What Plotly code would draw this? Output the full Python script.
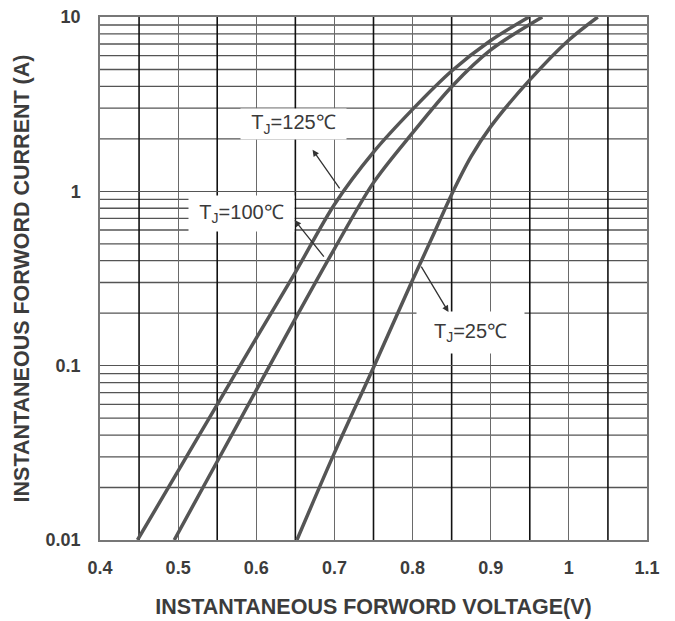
import math
import plotly.graph_objects as go

# ---- data ----
v_125 = [0.448, 0.5, 0.55, 0.6, 0.65, 0.7, 0.75, 0.8, 0.85, 0.9, 0.949]
i_125 = [0.01, 0.0249, 0.0598, 0.144, 0.343, 0.841, 1.679, 2.951, 4.898, 7.33, 10]

v_100 = [0.495, 0.55, 0.6, 0.65, 0.7, 0.75, 0.8, 0.85, 0.9, 0.966]
i_100 = [0.01, 0.0282, 0.0724, 0.186, 0.468, 1.122, 2.163, 3.981, 6.471, 10]

v_25 = [0.652, 0.7, 0.75, 0.8, 0.825, 0.85, 0.875, 0.9, 0.95, 1.0, 1.037]
i_25 = [0.01, 0.0316, 0.0977, 0.31, 0.543, 0.96, 1.585, 2.35, 4.355, 7.38, 10]

x_ticks = [0.4, 0.5, 0.6, 0.7, 0.8, 0.9, 1.0, 1.1]
x_tick_text = ["0.4", "0.5", "0.6", "0.7", "0.8", "0.9", "1", "1.1"]
x_minor = [0.45, 0.55, 0.65, 0.75, 0.85, 0.95, 1.05]
y_decades = [0.01, 0.1, 1, 10]
y_decade_text = ["0.01", "0.1", "1", "10"]

labels = ["T<sub>J</sub>=125℃", "T<sub>J</sub>=100℃", "T<sub>J</sub>=25℃"]
label_pos = [(0.648, 2.43), (0.581, 0.746), (0.874, 0.155)]
label_size = [(103, 28), (103, 33), (105, 39)]
arrow_tip = [(0.672, 1.73), (0.649, 0.684), (0.846, 0.203)]
arrow_tail = [(0.708, 1.02), (0.688, 0.414), (0.810, 0.377)]

# y minor gridlines at 2..9 x decade
y_minor = []
for d in y_decades[:-1]:
    for k in range(2, 10):
        y_minor.append(d * k)

curve_color = "#555555"
fig = go.Figure()
for vs, cs in [(v_125, i_125), (v_100, i_100), (v_25, i_25)]:
    fig.add_trace(go.Scatter(x=vs, y=cs, mode="lines",
                             line=dict(color=curve_color, width=3.5, shape="spline", smoothing=0.9),
                             showlegend=False, hoverinfo="skip"))

shapes = []
for yv in y_minor:
    shapes.append(dict(type="line", xref="x domain", yref="y", x0=0, x1=1,
                       y0=yv, y1=yv, layer="below",
                       line=dict(color="#555555", width=1.3)))
for xv in x_minor:
    shapes.append(dict(type="line", xref="x", yref="y domain", x0=xv, x1=xv, y0=0, y1=1,
                       layer="below", line=dict(color="#111111", width=1.6)))

anns = []
for txt, (lx, ly), (w, h) in zip(labels, label_pos, label_size):
    anns.append(dict(x=lx, y=math.log10(ly), xref="x", yref="y", text=txt, showarrow=False,
                     bgcolor="white", width=w, height=h,
                     font=dict(family="Liberation Sans, Arial, sans-serif", size=20, color="#3a3a3a")))
for (tx, ty), (ax, ay) in zip(arrow_tip, arrow_tail):
    anns.append(dict(x=tx, y=math.log10(ty), xref="x", yref="y", ax=ax, ay=math.log10(ay),
                     axref="x", ayref="y", text="", showarrow=True, arrowhead=2, arrowsize=1,
                     arrowwidth=1.3, arrowcolor="#333333"))

tick_font = dict(family="Liberation Sans, Arial, sans-serif", size=18, color="#3c3c3c", weight="bold")
title_font = dict(family="Liberation Sans, Arial, sans-serif", size=21.5, color="#3c3c3c", weight="bold")

# the page body adds an 8px offset, so the figure is 8px smaller than the window
fig.update_layout(
    width=667, height=613,
    margin=dict(l=92, r=28, t=9, b=81, autoexpand=False),
    paper_bgcolor="white", plot_bgcolor="white",
    annotations=anns, shapes=shapes,
    xaxis=dict(range=[0.4, 1.1], tickvals=x_ticks, ticktext=x_tick_text, ticks="",
               showgrid=True, gridcolor="#6a6a6a", gridwidth=1.3,
               showline=True, linecolor="#777777", linewidth=1.5, mirror=True,
               zeroline=False, tickfont=tick_font, automargin=False, ticklabelstandoff=11,
               ticklabeloverflow="allow",
               title=dict(text="INSTANTANEOUS FORWORD VOLTAGE(V)", font=title_font, standoff=22)),
    yaxis=dict(type="log", range=[-2, 1], tickvals=y_decades, ticktext=y_decade_text, ticks="",
               showgrid=True, gridcolor="#555555", gridwidth=1.3,
               showline=True, linecolor="#777777", linewidth=1.5, mirror=True,
               zeroline=False, tickfont=tick_font, automargin=False, ticklabelstandoff=14,
               ticklabeloverflow="allow",
               title=dict(text="INSTANTANEOUS FORWORD CURRENT (A)", font=title_font, standoff=10)),
)

fig.write_html("out.html")
